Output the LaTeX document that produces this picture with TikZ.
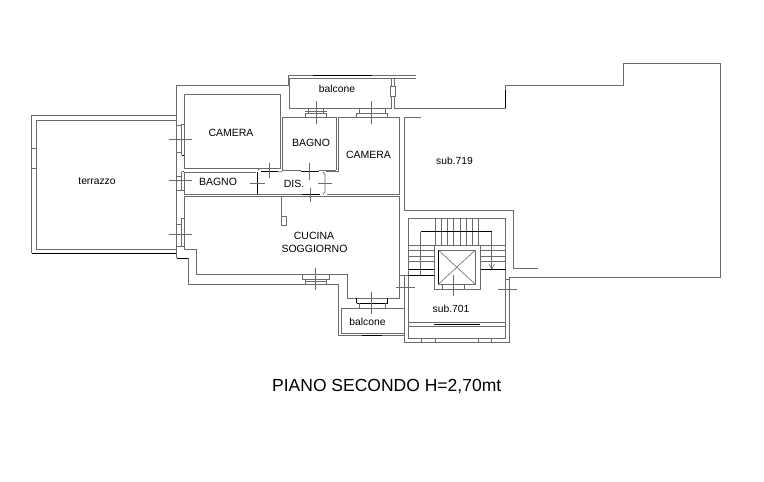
\documentclass[tikz,border=0pt]{standalone}
\usepackage{fontspec}
\setmainfont{Liberation Sans}
\definecolor{wall}{gray}{0.42}
\tikzset{
  wl/.style={draw=wall,line width=0.75pt},
  blk/.style={draw=black,line width=0.9pt},
  thin/.style={draw=wall,line width=0.6pt},
  lab/.style={font=\fontsize{10.3}{12}\selectfont,text=black,inner sep=0pt},
  caps/.style={font=\fontsize{10.5}{13}\selectfont,text=black,inner sep=0pt}
}
\begin{document}
\begin{tikzpicture}[x=1pt,y=-1pt]
\useasboundingbox (0,0) rectangle (764,482);
\fill[white] (0,0) rectangle (764,482);
% terrace
\draw[wl] (176.5,115.7) -- (31.7,115.7) -- (31.7,253.3);
\draw[blk] (31.7,253.3) -- (176.5,253.3);
\draw[wl] (176.5,120.5) -- (36,120.5) -- (36,249.3) -- (176.5,249.3);
\draw[thin] (31.7,148.3) rectangle (36,168.3);
% outer wall apartment
\draw[wl] (176.5,258.3) -- (176.5,85) -- (289.3,85);
\draw[wl] (181.5,124.3) -- (181.5,155);
\draw[wl] (181.5,124.3) -- (184.5,124.3) (176.5,125.5) -- (181.5,125.5);
\draw[blk] (181.5,155) -- (184.5,155);
\draw[wl] (176.5,152) -- (181.5,152);
% camera
\draw[wl] (184.5,168.3) -- (184.5,94.5) -- (280.3,94.5) -- (280.3,168.3) -- cycle;
% small bagno
\draw[wl] (256,172.3) -- (184.3,172.3) -- (184.3,194.3) -- (257,194.3);
\draw[wl] (181.5,171.7) -- (181.5,190) (176.5,176) -- (181.5,176) (176.5,190) -- (184.3,190) (181.5,171.7) -- (184.3,171.7);
% upper bagno
\draw[wl] (282.3,170.3) -- (282.3,117.3) -- (336.3,117.3) -- (336.3,170.3);
\draw[wl] (282.3,170.3) -- (300.7,170.3) (319,170.3) -- (336.3,170.3);
% right camera
\draw[wl] (326,171.7) -- (338.7,171.7) -- (338.7,117.3) -- (399.3,117.3) -- (399.3,194.3) -- (326.7,194.3);
% DIS
\draw[wl] (278,171.7) -- (282.3,171.7) (258,170) -- (260,168.5) -- (280.3,168.5);
\draw[blk] (261,171.7) -- (278,171.7) (300.7,171.7) -- (319,171.7);
\draw[blk] (257.3,172) -- (257.3,194.3);
\draw[wl] (323,172) -- (325,174.5) -- (325,192) -- (323,194.3);
\draw[wl] (257.3,194.3) -- (301.7,194.3);
\draw[blk] (301.7,194.3) -- (320,194.3);
\draw[thin] (250,183) -- (265,183) (269.3,163) -- (269.3,178) (309.3,163) -- (309.3,180)
  (317.7,183) -- (332.3,183) (310,187.7) -- (310,202.3);
% balcone top
\draw[thin] (288,85) -- (288,75.5) -- (415.7,75.5) (289.3,78) -- (415.7,78);
\draw[wl] (289.3,78) -- (289.3,108.3) -- (391.7,108.3) -- (391.7,78) (394,78) -- (394,108.3) -- (505,108.3) -- (505,85.3) -- (623.3,85.3) -- (623.3,63.3) -- (720.7,63.3) -- (720.7,277.3) -- (509.3,277.3);
\draw[blk,line width=0.5pt] (313,75.5) -- (372,75.5) (505,90) -- (505,108.3);
\draw[thin,fill=white] (390,86.7) rectangle (395.3,96.7);
% windows on top
\draw[wl] (305.3,117.3) -- (305.3,113.3) -- (326.7,113.3) -- (326.7,117.3) (308.3,113.3) -- (308.3,108.3) (323.3,113.3) -- (323.3,108.3);
\draw[wl] (356,117.3) -- (356,113.3) -- (387.7,113.3) -- (387.7,117.3) (359.3,113.3) -- (359.3,108.3) (385,113.3) -- (385,108.3);
\draw[thin] (316.7,101) -- (316.7,124.3) (305.3,111) -- (326.7,111) (371.7,101) -- (371.7,124.3);
% cucina
\draw[wl] (257,196.3) -- (184.3,196.3) -- (184.3,249.3) -- (196.7,249.3) -- (196.7,274.3) -- (347.7,274.3) -- (347.7,298.3) -- (399.5,298.3) -- (399.5,196.3) -- cycle;
\draw[wl] (181.5,218.3) -- (181.5,246.7) (176.5,224) -- (181.5,224) (176.5,246.7) -- (184.3,246.7) (181.5,218.3) -- (184.3,218.3);
\draw[blk] (176.5,258.3) -- (188.3,258.3);
\draw[wl] (188.3,258.3) -- (188.3,284.3) -- (338.3,284.3) -- (338.3,335.7) -- (404.3,335.7);
\draw[wl,line width=1.2pt] (281.7,196.3) -- (281.7,216.7);
\draw[thin] (281.7,216.7) rectangle (286.7,225);
% cucina window
\draw[wl] (302.7,274.3) -- (302.7,279.3) -- (329.3,279.3) -- (329.3,274.3) (305.3,279.3) -- (305.3,284.3) (326.7,279.3) -- (326.7,284.3) (305.3,281.7) -- (326.7,281.7);
\draw[thin] (315.7,268.3) -- (315.7,290);
% lower door
\draw[blk] (356.7,303.3) -- (356.7,298.3) (387.7,298.3) -- (387.7,303.3) (356.7,303.3) -- (387.7,303.3);
\draw[wl] (359.3,303.3) -- (359.3,308.3) (385,303.3) -- (385,308.3);
\draw[thin] (371.7,291.7) -- (371.7,314.3);
% lower balcony
\draw[wl] (404.3,308.3) -- (341.7,308.3) -- (341.7,333.3) -- (404.3,333.3);
\draw[blk] (361.7,335) -- (381.7,335);
% sub 719 and stair walls
\draw[wl] (399.5,275) -- (408.3,275);
\draw[wl] (404.3,275) -- (404.3,342.7) -- (509.3,342.7) -- (509.3,277.3);
\draw[thin] (396,287.7) -- (415,287.7);
\draw[wl] (420.7,117.3) -- (404.3,117.3) -- (404.3,210.7) -- (513.3,210.7) -- (513.3,268.3) -- (538.3,268.3);
% stair
\draw[wl] (408.3,338.3) -- (408.3,218.3) -- (505.7,218.3) -- (505.7,338.3) -- cycle;
\draw[thin] \foreach \x in {435.5,441.5,447.5,453.3,460,466,472,478.7} {(\x,218.3) -- (\x,245.7)};
\draw[thin] \foreach \y in {245.7,250.7,256,261.7} {(408.3,\y) -- (434.3,\y) (480,\y) -- (505.7,\y)};
\draw[blk] (420.7,231.7) -- (491.7,231.7);
\draw[thin] (420.7,231.7) -- (420.7,275) (491.7,231.7) -- (491.7,269.3);
\draw[blk] (408.3,269.3) -- (434.3,269.3) (480,269.3) -- (505.7,269.3);
\draw[blk] (408.3,275.3) -- (434.3,275.3);
\draw[thin] (489,264) -- (491.7,269.3) -- (494.4,264);
\draw[wl] (434.3,245.7) rectangle (480,289.3);
\draw[wl] (438.3,250) rectangle (475.3,284.3);
\draw[blk] (438.3,250) -- (438.3,284.3);
\draw[thin] (438.3,250) -- (475.3,284.3) (475.3,250) -- (438.3,284.3);
\draw[wl] (442.3,284.3) -- (442.3,289.3) (464.7,284.3) -- (464.7,289.3);
\draw[thin] (453.3,275) -- (453.3,296);
\draw[thin] (498,289) -- (517,289);
\draw[wl] (505.7,279) -- (509.3,279);
\draw[wl] (408.3,322.3) -- (505.7,322.3) (408.3,326.7) -- (505.7,326.7);
\draw[blk] (434.3,324.3) -- (480,324.3);
\draw[wl] (421.7,338.3) -- (421.7,342.7) (435.7,338.3) -- (435.7,342.7) (478.3,338.3) -- (478.3,342.7) (491.7,338.3) -- (491.7,342.7);
% crosses on windows
\draw[thin] (169,139.3) -- (192,139.3) (169,180.7) -- (192,180.7) (169,234) -- (192,234);
% text
\node[caps] (camera1) at (231,133) {CAMERA};
\node[caps] (bagno1) at (311,142.5) {BAGNO};
\node[caps] (camera2) at (368.5,155) {CAMERA};
\node[lab] (sub719) at (454.5,161) {sub.719};
\node[lab] (terrazzo) at (97,181.5) {terrazzo};
\node[caps] (bagno2) at (218,182) {BAGNO};
\node[caps] (dis) at (294,184) {DIS.};
\node[caps] (cucina) at (314,236) {CUCINA};
\node[caps] (soggiorno) at (314.5,249) {SOGGIORNO};
\node[lab] (balcone1) at (337,88.5) {balcone};
\node[lab] (balcone2) at (367.5,322) {balcone};
\node[lab] (sub701) at (451,308.5) {sub.701};
\node[inner sep=0pt,font=\fontsize{17.5}{20}\selectfont] (title) at (386.7,387) {PIANO SECONDO H=2,70mt};
\end{tikzpicture}
\end{document}
